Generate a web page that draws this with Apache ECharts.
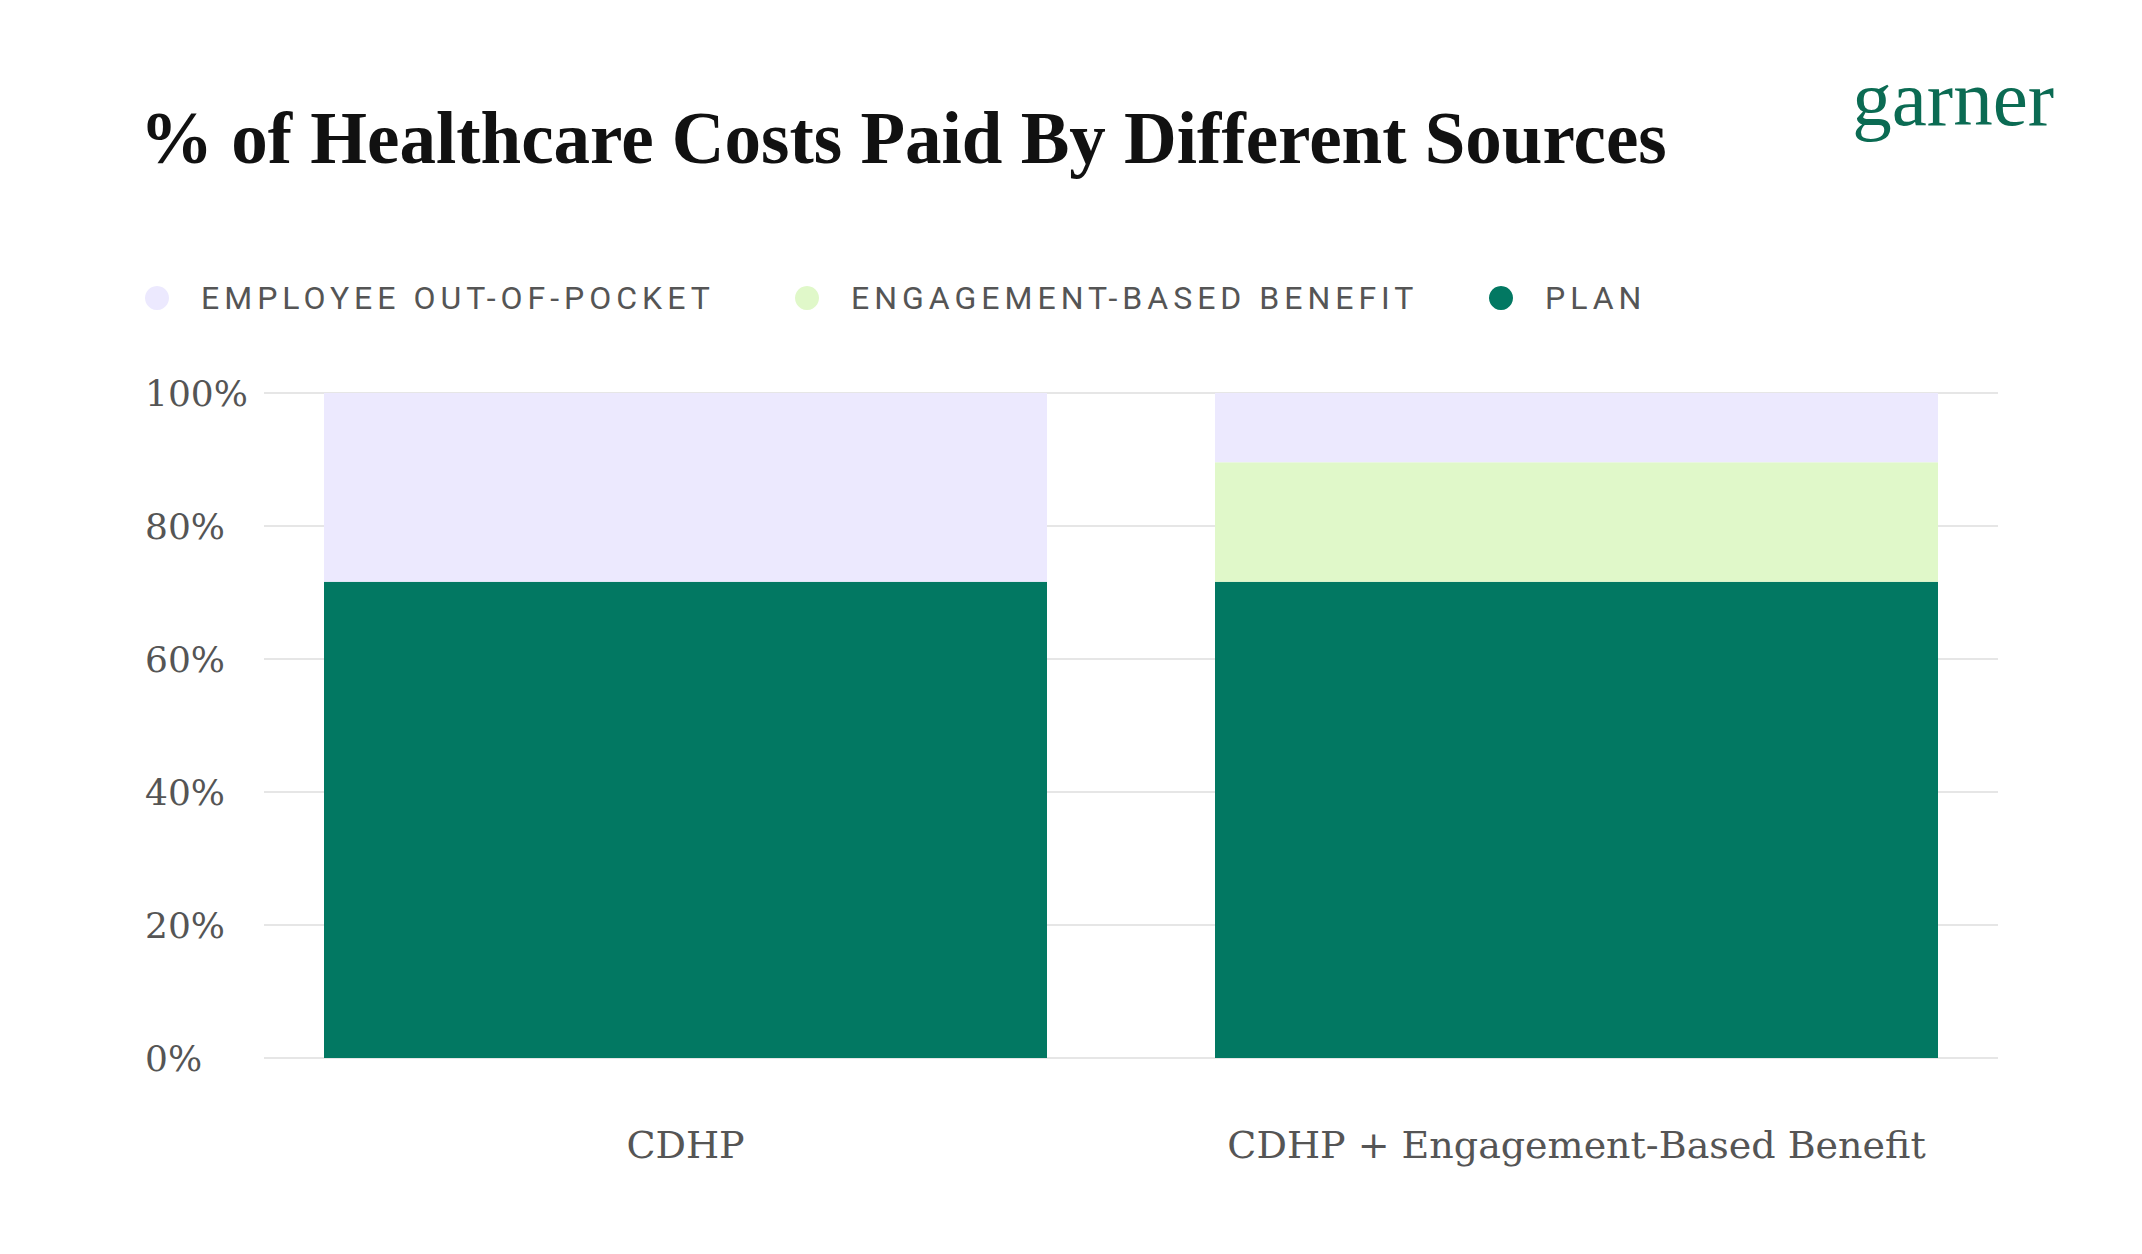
<!DOCTYPE html>
<html>
<head>
<meta charset="utf-8">
<script src="https://cdn.jsdelivr.net/npm/echarts@6/dist/echarts.min.js"></script>
<style>
  html, body { margin: 0; padding: 0; background: #ffffff; }
  #chart { width: 2142px; height: 1254px; }
  #chart text[style*="Roboto"] { letter-spacing: 5px; }
</style>
</head>
<body>
<div id="chart"></div>
<script>
const categories = ['CDHP', 'CDHP + Engagement-Based Benefit'];
const planValues = [71.6, 71.6];
const engagementValues = [0, 18];
const employeeValues = [28.4, 10.4];
const seriesNames = ['EMPLOYEE OUT-OF-POCKET', 'ENGAGEMENT-BASED BENEFIT', 'PLAN'];
const yTicks = [0, 20, 40, 60, 80, 100];

const colors = {
  employee: '#ECE9FE',
  engagement: '#E0F8C9',
  plan: '#027862'
};

const chart = echarts.init(document.getElementById('chart'), null, { renderer: 'svg' });

const legendBase = {
  orient: 'horizontal',
  top: 277,
  icon: 'circle',
  itemWidth: 24,
  itemHeight: 24,
  selectedMode: false,
  textStyle: {
    fontFamily: 'Roboto',
    fontSize: 32,
    color: '#555555',
    padding: [0, 0, 0, 27]
  }
};

const option = {
  backgroundColor: '#ffffff',
  animation: false,
  title: [
    {
      text: '% of Healthcare Costs Paid By Different Sources',
      left: 135,
      top: 97,
      textStyle: {
        fontFamily: 'Liberation Serif',
        fontWeight: 'bold',
        fontSize: 73,
        color: '#111111'
      }
    },
    {
      text: 'garner',
      right: 83,
      top: 54,
      textStyle: {
        fontFamily: 'Liberation Serif',
        fontWeight: 'normal',
        fontSize: 79,
        color: '#0B6B53'
      }
    }
  ],
  legend: [
    Object.assign({}, legendBase, { left: 140, data: [seriesNames[0]] }),
    Object.assign({}, legendBase, { left: 790, data: [seriesNames[1]] }),
    Object.assign({}, legendBase, { left: 1484, data: [seriesNames[2]] })
  ],
  grid: [
    { left: 240, right: 120, top: 393, bottom: 196, containLabel: false },
    { left: 264, right: 144, top: 393, bottom: 196, containLabel: false }
  ],
  xAxis: [
    {
      type: 'category',
      gridIndex: 0,
      data: categories,
      axisLine: { show: false },
      axisTick: { show: false },
      axisLabel: {
        interval: 0,
        margin: 68,
        fontFamily: 'DejaVu Serif',
        fontSize: 38,
        color: '#555555'
      }
    },
    {
      type: 'category',
      gridIndex: 1,
      data: categories,
      show: false
    }
  ],
  yAxis: [
    {
      type: 'value',
      gridIndex: 0,
      min: 0,
      max: 100,
      interval: 20,
      show: false
    },
    {
      type: 'value',
      gridIndex: 1,
      min: 0,
      max: 100,
      interval: 20,
      axisLine: { show: false },
      axisTick: { show: false },
      splitLine: { show: true, lineStyle: { color: '#E6E6E6', width: 2 } },
      axisLabel: {
        margin: 119,
        align: 'left',
        fontFamily: 'DejaVu Serif',
        fontSize: 36,
        color: '#555555',
        formatter: function (v) { return yTicks.indexOf(v) >= 0 ? v + '%' : ''; }
      }
    }
  ],
  series: [
    {
      name: seriesNames[2],
      type: 'bar',
      stack: 'total',
      xAxisIndex: 0,
      yAxisIndex: 0,
      barWidth: 723,
      data: planValues,
      itemStyle: { color: colors.plan },
      z: 3
    },
    {
      name: seriesNames[1],
      type: 'bar',
      stack: 'total',
      xAxisIndex: 0,
      yAxisIndex: 0,
      barWidth: 723,
      data: engagementValues,
      itemStyle: { color: colors.engagement },
      z: 3
    },
    {
      name: seriesNames[0],
      type: 'bar',
      stack: 'total',
      xAxisIndex: 0,
      yAxisIndex: 0,
      barWidth: 723,
      data: employeeValues,
      itemStyle: { color: colors.employee },
      z: 3
    }
  ]
};

chart.setOption(option);
</script>
</body>
</html>
